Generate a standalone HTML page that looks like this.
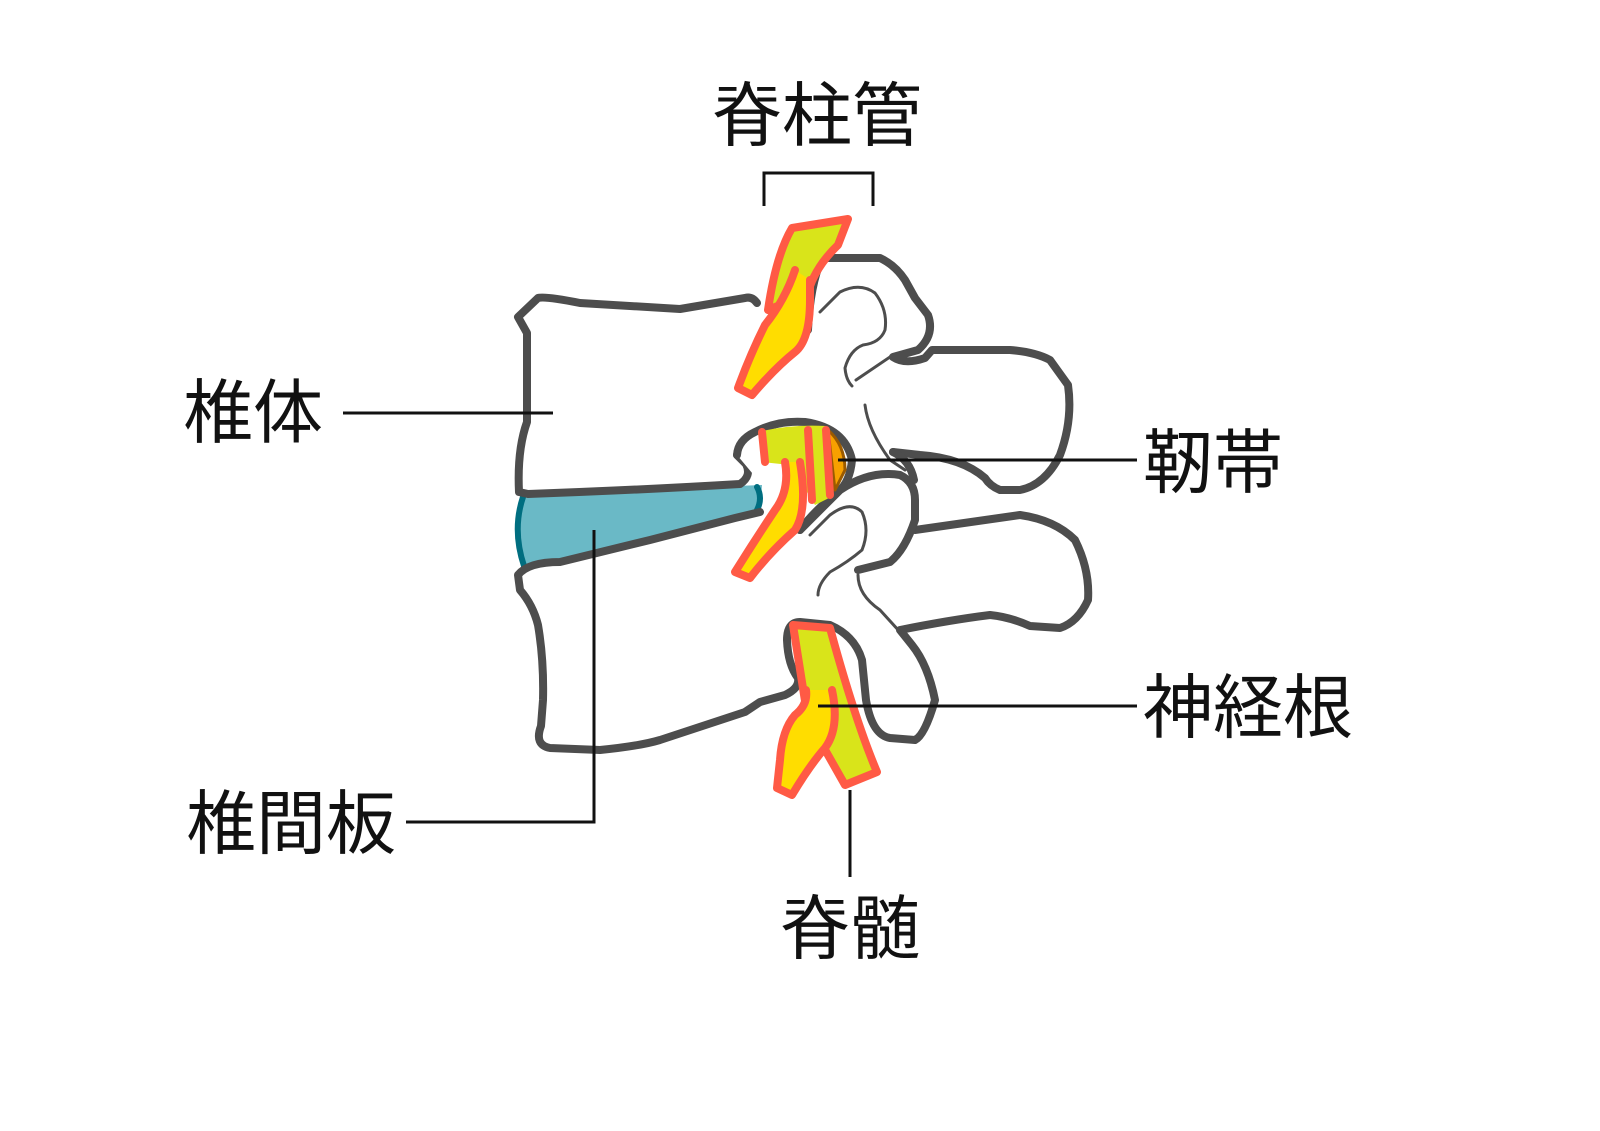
<!DOCTYPE html>
<html><head><meta charset="utf-8"><style>
html,body{margin:0;padding:0;background:#fff;width:1600px;height:1131px;overflow:hidden}
svg{display:block}
text{font-family:"Liberation Sans","Noto Sans CJK JP",sans-serif;font-size:70px;fill:#111}
</style></head><body>
<svg width="1600" height="1131" viewBox="0 0 1600 1131">
<g fill="none" stroke="#4d4d4d" stroke-width="8" stroke-linejoin="round" stroke-linecap="round">
<!-- disc -->
<path d="M520,497 Q512,530 524,566 L560,562 L650,540 L735,518 L760,510 L762,485 L525,494 Z" fill="#6ab9c6" stroke="none"/>
<path d="M523,497 Q512,530 524,566" stroke="#006e80" stroke-width="6"/>
<path d="M757,487 Q763,498 757,510" stroke="#006e80" stroke-width="6"/>
<!-- upper body -->
<path d="M757,303 Q752,296 745,298 L680,309 L580,303 Q545,296 538,298 L518,317 L527,333 L527,422 Q517,450 519,492 L528,494 Q640,490 740,484 Q752,476 746,464 L737,455" fill="#fff"/>
<!-- lower body -->
<path d="M760,512 L735,518 L650,540 L560,562 Q528,562 518,575 L520,590 Q533,605 538,625 Q544,660 543,700 L541,726 Q534,745 550,748 L600,750 Q640,746 660,740 L745,712 L760,702 L785,695 Q800,688 798,678 Q788,665 787,640 Q787,622 800,622 L830,625 Q855,636 862,660 L866,700 Q872,735 890,738 L915,740 Q925,735 935,700 Q928,665 912,645 L900,630 Q950,620 990,615 Q1010,617 1030,626 L1060,628 Q1078,622 1088,600 Q1090,570 1075,540 Q1055,520 1020,515 L915,530"/>
<!-- spinal canal arc over second nerve -->
<path d="M737,455 Q738,440 755,432 Q778,420 805,422 Q845,428 852,460 Q850,482 838,492 Q815,510 800,530" fill="#fff"/>
<!-- top posterior bone -->
<path d="M808,330 Q810,285 822,258 L880,258 Q895,265 905,280 L915,298 L928,315 Q935,335 918,350 L893,357 Q905,365 925,358 L932,350 L1010,350 Q1035,352 1050,360 L1068,385 Q1073,420 1060,455 Q1045,485 1020,490 L1000,490 Q990,486 985,478 Q962,458 920,455 L893,452"/>
<!-- middle bone -->
<path d="M800,530 L840,490 Q870,470 900,475 Q915,482 915,500 L915,520 Q905,550 890,562 L858,570" fill="#fff"/>
<path d="M893,452 Q910,460 914,480"/>
</g>
<g fill="none" stroke="#4d4d4d" stroke-width="3" stroke-linecap="round">
<path d="M820,312 L840,292 Q860,282 875,293 Q888,310 885,330 Q880,343 863,345 Q850,350 845,368 Q846,380 852,386"/>
<path d="M856,380 L890,357"/>
<path d="M865,405 Q868,430 890,460 L905,470"/>
<path d="M810,535 L830,515 Q850,500 862,512 Q870,530 862,550 Q848,562 830,572 Q818,584 818,595"/>
<path d="M858,575 Q858,595 880,610 L900,632"/>
</g>
<!-- nerves -->
<g stroke="#ff5a45" stroke-width="8" stroke-linejoin="round" stroke-linecap="round">
<!-- top -->
<path d="M792,228 L848,219 L838,245 Q812,270 806,300 Q790,300 768,310 Q776,255 792,228 Z" fill="#d9e41a"/>
<path d="M795,270 Q785,300 765,325 Q750,355 738,388 L752,395 Q775,368 795,352 Q810,340 810,300 L810,280" fill="#ffdd00"/>
<!-- middle -->
<path d="M758,432 Q790,424 826,426 L829,498 L815,505 L790,465 L762,462 Z" fill="#d9e41a" stroke="none"/>
<path d="M828,430 Q845,445 845,470 L835,490 Z" fill="#f7a000" stroke="#9a5a00" stroke-width="3"/>
<path d="M762,432 L765,462 M808,430 L812,500 M826,430 L830,495" fill="none"/>
<path d="M785,462 Q790,490 775,510 Q755,540 735,572 L750,578 Q770,552 795,530 Q808,510 800,462" fill="#ffdd00"/>
<!-- bottom -->
<path d="M793,625 L830,628 Q855,720 877,772 L845,785 L828,755 L808,720 Z" fill="#d9e41a"/>
<path d="M806,690 Q808,705 795,715 Q782,730 780,760 L777,788 L792,795 Q810,765 825,748 Q840,728 832,690" fill="#ffdd00"/>
</g>
<!-- leader lines -->
<g stroke="#111" stroke-width="3" fill="none">
<path d="M764,206 L764,173 L873,173 L873,206"/>
<path d="M343,413 L553,413"/>
<path d="M838,460 L1137,460"/>
<path d="M818,706 L1137,706"/>
<path d="M406,822 L594,822 L594,530"/>
<path d="M850,790 L850,877"/>
</g>
<text x="712" y="140">脊柱管</text>
<text x="183" y="437">椎体</text>
<text x="1143" y="487">靭帯</text>
<text x="1143" y="732">神経根</text>
<text x="186" y="848">椎間板</text>
<text x="780" y="953">脊髄</text>
</svg>
</body></html>
